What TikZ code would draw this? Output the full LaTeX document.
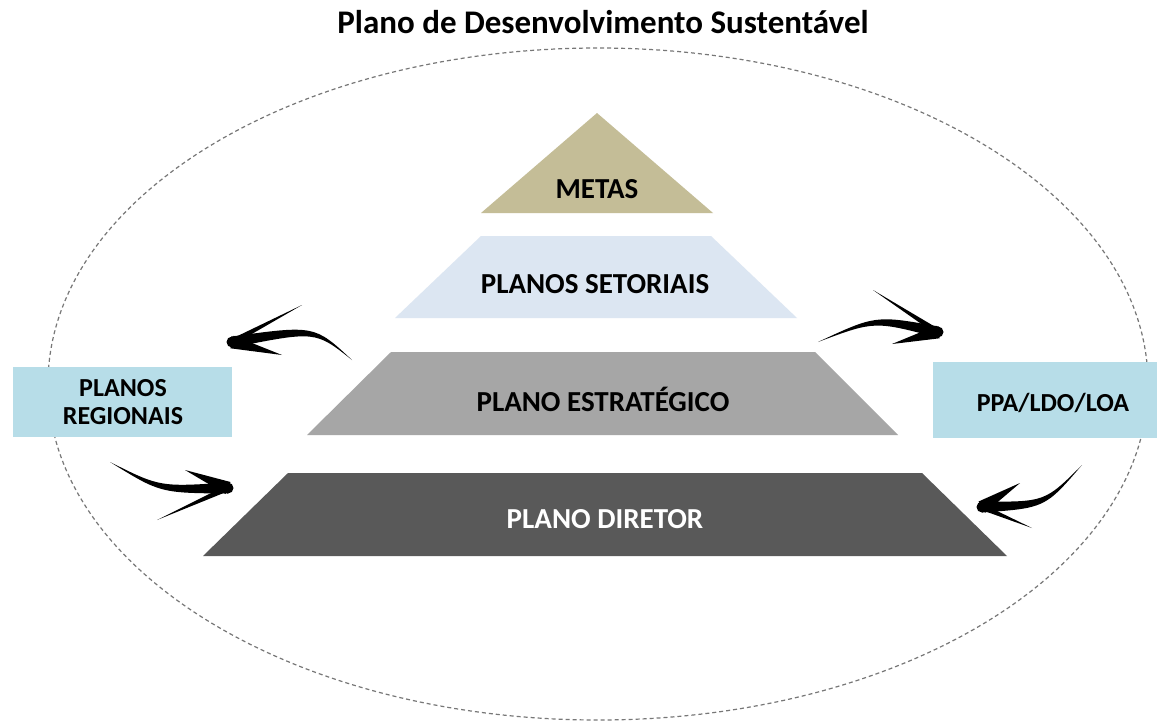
\documentclass[tikz,border=0pt]{standalone}
\usepackage{fontspec}
\setmainfont{Carlito}
\usetikzlibrary{calc}
\definecolor{metascol}{HTML}{C4BD97}
\definecolor{setorcol}{HTML}{DCE6F2}
\definecolor{estratcol}{HTML}{A6A6A6}
\definecolor{diretorcol}{HTML}{595959}
\definecolor{boxblue}{HTML}{B7DDE8}
\definecolor{ellgray}{HTML}{777777}
% #1 tail, #2 control, #3 tip, #4 half width at tip, #5 half width at control
\newcommand{\brushshaft}[5]{%
  \fill[black] (#1) .. controls ($(#2)!#5!-90:(#3)$) .. ($(#3)!#4!90:(#2)$)
     -- ($(#3)!#4!-90:(#2)$) .. controls ($(#2)!#5!90:(#3)$) .. (#1) -- cycle;
  \fill[black] (#3) circle[radius=#4];}
% #1 base, #2 point, #3 half width at base
\newcommand{\brushbarb}[3]{%
  \fill[black] ($(#1)!#3!90:(#2)$) -- (#2) -- ($(#1)!#3!-90:(#2)$) -- cycle;}
\begin{document}
\begin{tikzpicture}[x=1pt,y=-1pt,
  lvl/.style={font=\fontsize{29}{34}\selectfont\bfseries},
  sidebox/.style={inner sep=0pt, font=\fontsize{26}{30}\selectfont\bfseries, align=center}]
\useasboundingbox (0,0) rectangle (1157,721);
\fill[white] (0,0) rectangle (1157,721);

% title
\node (title) at (603,22) {\fontsize{33}{38}\selectfont\bfseries Plano de Desenvolvimento Sustentável};

% dashed ellipse
\draw[ellgray, line width=1.2pt, dash pattern=on 4pt off 3pt] (598,384) ellipse [x radius=550pt, y radius=336pt];

% pyramid levels
\fill[metascol] (597,113) -- (713,213) -- (481,213) -- cycle;
\fill[setorcol] (481,236) -- (711,236) -- (797,318) -- (395,318) -- cycle;
\fill[estratcol] (391,352) -- (815,352) -- (898,435) -- (307,435) -- cycle;
\fill[diretorcol] (288,473) -- (922,473) -- (1007,556) -- (203,556) -- cycle;

\node[lvl] (metas) at (597,189) {METAS};
\node[lvl] (setoriais) at (595,284) {PLANOS SETORIAIS};
\node[lvl] (estrategico) at (603,399) {PLANO ESTRATÉGICO};
\node[lvl, text=white] (diretor) at (605,519) {PLANO DIRETOR};

% side boxes
\fill[boxblue] (13,367) rectangle (232,437);
\node[sidebox] (regionais) at (123,402) {PLANOS\\[-2pt]REGIONAIS};
\fill[boxblue] (933,362) rectangle (1157,438);
\node[sidebox] (ppa) at (1053,403) {PPA/LDO/LOA};

% brush arrows
\coordinate (a1t) at (352,360); \coordinate (a1c) at (315,328); \coordinate (a1p) at (232,342);
\coordinate (a1u) at (302,305); \coordinate (a1l) at (282,355);
\brushshaft{a1t}{a1c}{a1p}{5.5pt}{3pt}
\brushbarb{a1p}{a1u}{3pt}
\brushbarb{a1p}{a1l}{6.5pt}

\coordinate (a2t) at (818,342); \coordinate (a2c) at (875,318); \coordinate (a2p) at (938,332);
\coordinate (a2u) at (873,290); \coordinate (a2l) at (892,344);
\brushshaft{a2t}{a2c}{a2p}{5.5pt}{3pt}
\brushbarb{a2p}{a2u}{3pt}
\brushbarb{a2p}{a2l}{6.5pt}

\coordinate (a3t) at (110,462); \coordinate (a3c) at (160,490); \coordinate (a3p) at (228,488);
\coordinate (a3u) at (185,470); \coordinate (a3l) at (157,520);
\brushshaft{a3t}{a3c}{a3p}{5.5pt}{3pt}
\brushbarb{a3p}{a3u}{6.5pt}
\brushbarb{a3p}{a3l}{3pt}

\coordinate (a4t) at (1082,465); \coordinate (a4c) at (1045,505); \coordinate (a4p) at (982,507);
\coordinate (a4u) at (1020,483); \coordinate (a4l) at (1032,528);
\brushshaft{a4t}{a4c}{a4p}{5.5pt}{3pt}
\brushbarb{a4p}{a4u}{6.5pt}
\brushbarb{a4p}{a4l}{3pt}
\end{tikzpicture}
\end{document}
